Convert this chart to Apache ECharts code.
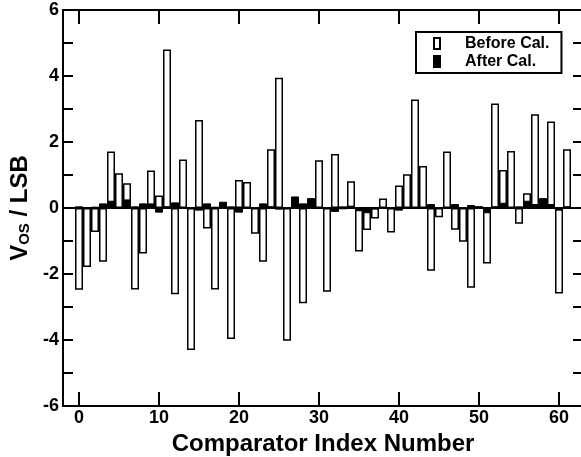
<!DOCTYPE html>
<html><head><meta charset="utf-8">
<script src="https://cdn.jsdelivr.net/npm/echarts@6/dist/echarts.min.js"></script>
<style>html,body{margin:0;padding:0;background:#fff}#c{width:581px;height:457px}</style>
</head><body><div id="c"></div>
<script>
const comparatorIndex = [0,1,2,3,4,5,6,7,8,9,10,11,12,13,14,15,16,17,18,19,20,21,22,23,24,25,26,27,28,29,30,31,32,33,34,35,36,37,38,39,40,41,42,43,44,45,46,47,48,49,50,51,52,53,54,55,56,57,58,59,60,61];
const beforeCal = [-2.48,-1.79,-0.73,-1.63,1.71,1.05,0.75,-2.47,-1.38,1.14,0.38,4.80,-2.61,1.47,-4.30,2.67,-0.62,-2.47,0.05,-3.97,0.85,0.79,-0.78,-1.63,1.78,3.95,-4.02,0.10,-2.89,0.10,1.45,-2.54,1.64,0.05,0.81,-1.32,-0.67,-0.32,0.29,-0.74,0.68,1.02,3.29,1.27,-1.90,-0.28,1.71,-0.66,-1.02,-2.42,0.05,-1.68,3.17,1.15,1.73,-0.48,0.45,2.84,0.10,2.62,-2.59,1.78];
const afterCal = [0.05,0.02,0.04,0.14,0.22,0.02,0.26,0.05,0.14,0.14,-0.14,0.05,0.17,0.02,-0.03,-0.08,0.14,0.04,0.19,0.05,-0.14,0.02,0.02,0.14,0.05,-0.05,0.02,0.35,0.14,0.30,0.03,0.02,-0.12,-0.04,0.07,-0.10,-0.16,-0.04,0.03,0.02,-0.08,0.03,0.03,0.03,0.12,0.02,0.03,0.12,0.02,0.09,0.05,-0.16,0.05,0.16,0.03,0.05,0.22,0.12,0.30,0.12,-0.08,0.05];
const xTickValues = [0,10,20,30,40,50,60];
const seriesNames = ['Before Cal.', 'After Cal.'];

const FONT = '"Liberation Sans", Arial, Helvetica, sans-serif';
const INK = '#000000';
const chart = echarts.init(document.getElementById('c'), null, {renderer: 'canvas'});
function frameLine() { return {show: true, onZero: false, lineStyle: {color: INK, width: 2}}; }
function xTick() { return {show: true, inside: true, length: 14, lineStyle: {color: INK, width: 2}, customValues: xTickValues.slice()}; }
function yTick() { return {show: true, inside: true, length: 10, lineStyle: {color: INK, width: 2}}; }
chart.setOption({
  animation: false,
  backgroundColor: '#fff',
  grid: {left: 63, top: 10, width: 520, height: 396, outerBoundsMode: 'none', containLabel: false,
    show: true, borderColor: INK, borderWidth: 2, backgroundColor: 'transparent'},
  legend: {
    data: seriesNames, orient: 'vertical', left: 416, top: 32,
    itemWidth: 6, itemHeight: 11, itemGap: 1, icon: 'rect',
    selectedMode: false,
    backgroundColor: '#fff', borderColor: '#000', borderWidth: 2, borderRadius: 0,
    padding: [3, 12, 3, 17],
    textStyle: {fontFamily: FONT, fontSize: 16, fontWeight: 'bold', color: '#000', padding: [0, 0, 0, 20], lineHeight: 17}
  },
  xAxis: [{
    type: 'value', position: 'bottom', min: -2, max: 63,
    axisLine: frameLine(),
    axisTick: xTick(),
    axisLabel: {show: true, customValues: xTickValues.slice(), fontFamily: FONT, fontSize: 18, fontWeight: 'bold', color: '#000', margin: 3},
    splitLine: {show: false},
    name: 'Comparator Index Number', nameLocation: 'middle', nameGap: 15,
    nameTextStyle: {fontFamily: FONT, fontSize: 24, fontWeight: 'bold', color: '#000'}
  }, {
    type: 'value', position: 'top', min: -2, max: 63,
    axisLine: frameLine(),
    axisTick: xTick(),
    axisLabel: {show: false}, splitLine: {show: false}
  }],
  yAxis: [{
    type: 'value', position: 'left', min: -6, max: 6, interval: 1,
    axisLine: frameLine(),
    axisTick: yTick(),
    axisLabel: {show: true, fontFamily: FONT, fontSize: 18, fontWeight: 'bold', color: '#000', margin: 4,
      formatter: v => (Math.round(v) % 2 === 0 ? String(v) : '')},
    splitLine: {show: false},
    name: '{v|V}{s|OS}{v| / LSB}', nameLocation: 'middle', nameGap: 31, nameRotate: 90,
    nameTextStyle: {fontFamily: FONT, fontWeight: 'bold', color: '#000',
      rich: {
        v: {fontFamily: FONT, fontSize: 24, fontWeight: 'bold', color: '#000', lineHeight: 24, verticalAlign: 'bottom'},
        s: {fontFamily: FONT, fontSize: 15, fontWeight: 'bold', color: '#000', lineHeight: 16, verticalAlign: 'bottom'}
      }}
  }, {
    type: 'value', position: 'right', min: -6, max: 6, interval: 1,
    axisLine: frameLine(),
    axisTick: yTick(),
    axisLabel: {show: false}, splitLine: {show: false}
  }],
  series: [{
    name: seriesNames[0], type: 'bar', xAxisIndex: 0, yAxisIndex: 0,
    barWidth: 8, barGap: '-100%',
    data: comparatorIndex.map((x, i) => [x, beforeCal[i]]),
    itemStyle: {color: '#fff', borderColor: '#000', borderWidth: 1.5}
  }, {
    name: seriesNames[1], type: 'bar', xAxisIndex: 0, yAxisIndex: 0,
    barWidth: 8, barGap: '-100%',
    data: comparatorIndex.map((x, i) => [x, afterCal[i]]),
    itemStyle: {color: '#000', borderColor: '#000', borderWidth: 1},
    markLine: {silent: true, symbol: 'none', label: {show: false},
      lineStyle: {color: '#000', width: 2, type: 'solid'}, data: [{yAxis: 0}]}
  }]
});
</script></body></html>
